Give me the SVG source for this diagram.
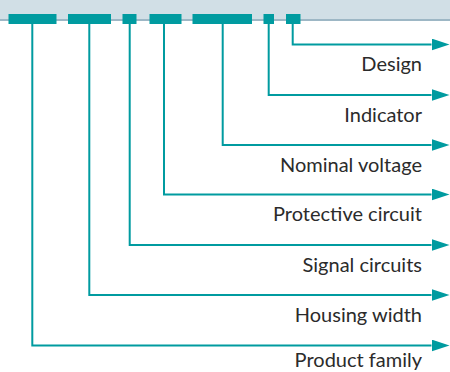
<svg xmlns="http://www.w3.org/2000/svg" width="450" height="372" viewBox="0 0 450 372">
<style>
.blk{fill:#009ba0}
.con{fill:none;stroke:#009ba0;stroke-width:2}
.lbl{font-family:Lato,"Liberation Sans",sans-serif;font-size:20px;fill:#2b2b2b;text-anchor:end}
</style>
<defs>
<marker id="ah" markerUnits="userSpaceOnUse" markerWidth="18" markerHeight="12" refX="0" refY="6" orient="auto" viewBox="0 0 18 12">
<path d="M0,0 L18,6 L0,12 Z" fill="#009ba0"/>
</marker>
</defs>
<g id="band">
<rect x="0" y="0" width="450" height="19" fill="#d1dfe6"/>
<rect x="0" y="19" width="450" height="2" fill="#9db7c5"/>
</g>
<g id="code">
<rect class="blk" x="8.5" y="14" width="48" height="10"/>
<rect class="blk" x="68" y="14" width="43" height="10"/>
<rect class="blk" x="122.5" y="14" width="14" height="10"/>
<rect class="blk" x="149.5" y="14" width="32" height="10"/>
<rect class="blk" x="192.5" y="14" width="59.5" height="10"/>
<rect class="blk" x="263.5" y="14" width="10.5" height="10"/>
<rect class="blk" x="286" y="14" width="14.5" height="10"/>
</g>
<g id="connectors">
<path class="con" marker-end="url(#ah)" d="M292.7,24 V44.5 H431.5"/>
<path class="con" marker-end="url(#ah)" d="M268.7,24 V95 H431.5"/>
<path class="con" marker-end="url(#ah)" d="M222.7,24 V145 H431.5"/>
<path class="con" marker-end="url(#ah)" d="M164,24 V194.5 H431.5"/>
<path class="con" marker-end="url(#ah)" d="M129.7,24 V245 H431.5"/>
<path class="con" marker-end="url(#ah)" d="M89.3,24 V295 H431.5"/>
<path class="con" marker-end="url(#ah)" d="M32.3,24 V345.5 H431.5"/>
</g>
<g id="labels">
<g id="design"><text class="lbl" x="422" y="71">Design</text></g>
<g id="indicator"><text class="lbl" x="422" y="121.5">Indicator</text></g>
<g id="nominal"><text class="lbl" x="422" y="171.5">Nominal voltage</text></g>
<g id="protective"><text class="lbl" x="422" y="221">Protective circuit</text></g>
<g id="signal"><text class="lbl" x="422" y="271.5">Signal circuits</text></g>
<g id="housing"><text class="lbl" x="422" y="321.5">Housing width</text></g>
<g id="family"><text class="lbl" x="422" y="367">Product family</text></g>
</g>
</svg>
